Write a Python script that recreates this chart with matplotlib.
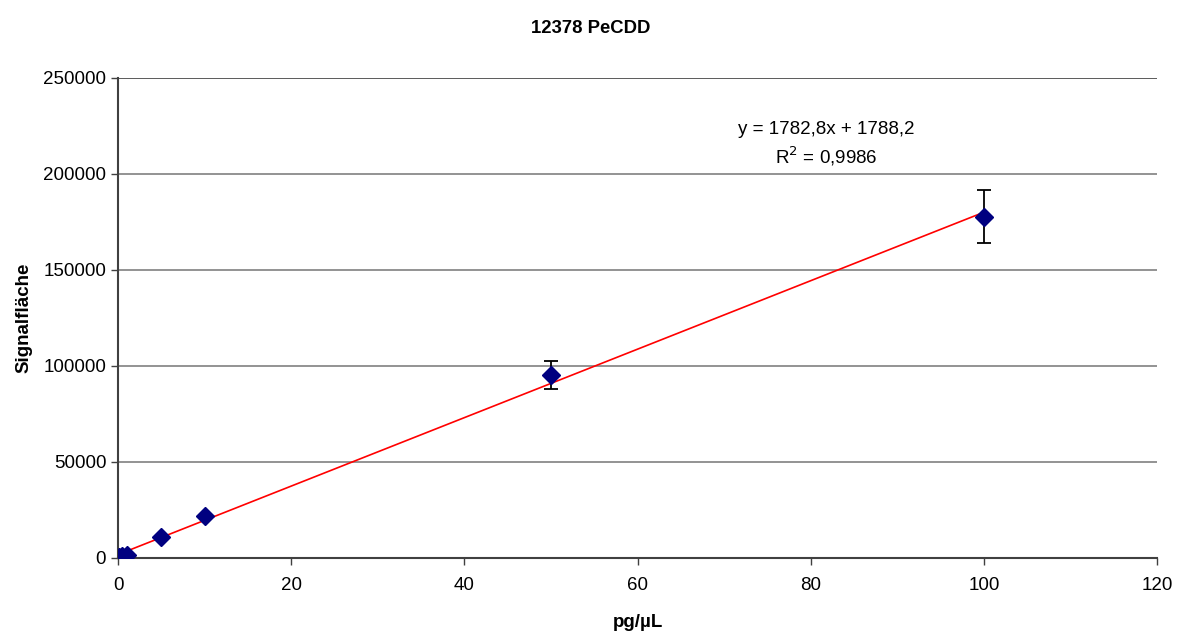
import matplotlib
matplotlib.use("Agg")
import matplotlib.pyplot as plt
import numpy as np

plt.rcParams['font.family'] = ['Liberation Sans', 'DejaVu Sans']

# Calibration standards (pg/µL) and mean signal areas with standard deviations
conc = [0.1, 0.5, 1, 5, 10, 50, 100]
area = [300, 900, 1800, 11000, 21800, 95300, 177600]
area_sd = [0, 0, 0, 0, 0, 7300, 13800]

# Linear regression reported on the chart
slope = 1782.8
intercept = 1788.2
r2 = 0.9986

x_ticks = [0, 20, 40, 60, 80, 100, 120]
y_ticks = [0, 50000, 100000, 150000, 200000, 250000]

fig = plt.figure(figsize=(11.84, 6.33), dpi=100)
ax = fig.add_axes([0.0997, 0.1185, 0.8775, 0.7583])

for yv in y_ticks[1:]:
    ax.axhline(yv, color='#808080' if yv < 250000 else '#404040', lw=1.2, zorder=1)

fit_x = np.array([0, 100])
ax.plot(fit_x, slope * fit_x + intercept, color='#ff0000', lw=1.2, zorder=3)

ax.errorbar(conc, area, yerr=area_sd, fmt='D', color='#000080', ms=9,
            ecolor='black', elinewidth=1.3, capsize=5, capthick=1.3, zorder=4,
            markeredgecolor='#000080')

ax.set_xlim(0, 120)
ax.set_ylim(0, 250000)
ax.set_xticks(x_ticks)
ax.set_yticks(y_ticks)
ax.tick_params(axis='both', labelsize=13.5, direction='out', length=5, width=1, color='#404040')
ax.tick_params(axis='x', pad=9)

for side in ['top', 'right']:
    ax.spines[side].set_visible(False)
for side in ['left', 'bottom']:
    ax.spines[side].set_color('#404040')
    ax.spines[side].set_linewidth(1.5)

ax.set_xlabel('pg/µL', fontsize=13.5, fontweight='bold', labelpad=14)
ax.set_ylabel('Signalfläche', fontsize=13.5, fontweight='bold', labelpad=8)
fig.text(0.499, 0.955, '12378 PeCDD', ha='center', va='center', fontsize=13.3, fontweight='bold')

ax.text(81.8, 223000, f'y = {slope:.1f}x + {intercept:.1f}'.replace('.', ','),
        ha='center', va='center', fontsize=13.5)
ax.text(81.8, 209000, r'R$^2$ = ' + f'{r2:.4f}'.replace('.', ','),
        ha='center', va='center', fontsize=13.5)

fig.savefig('out.png', dpi=100)
